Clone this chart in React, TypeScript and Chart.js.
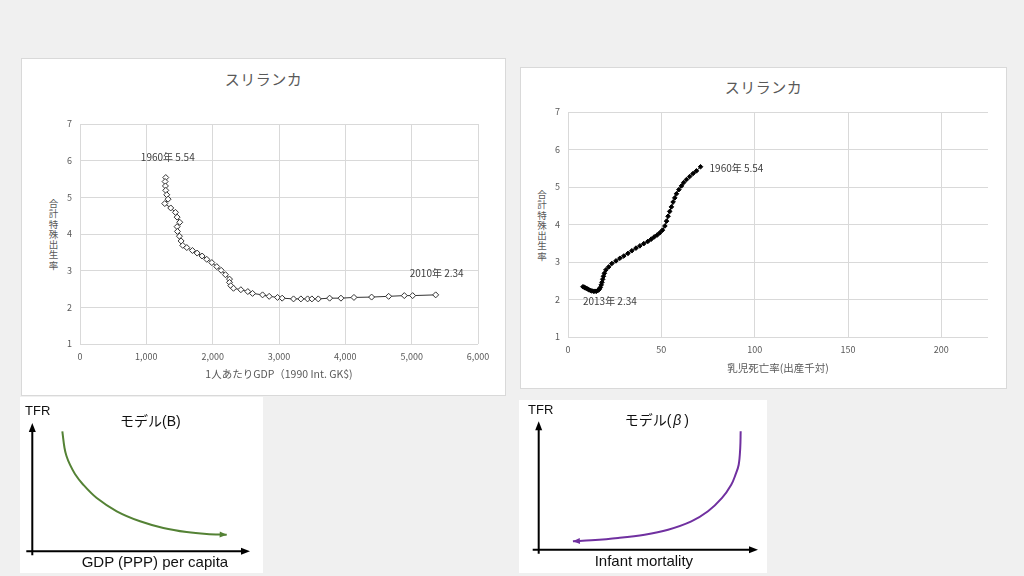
import React, { useEffect, useRef } from "react";
import { Chart, registerables } from "chart.js";

Chart.register(...registerables);

// ---------- TFR vs GDP per capita (Sri Lanka 1960–2010) ----------
const gdpPerCapita = [1293, 1283, 1288, 1293, 1308, 1328, 1278, 1368, 1439, 1464, 1504, 1464, 1469, 1499, 1524, 1549, 1610, 1695, 1766, 1841, 1911, 1987, 2062, 2128, 2193, 2254, 2254, 2274, 2314, 2425, 2530, 2601, 2752, 2852, 2978, 3048, 3219, 3330, 3431, 3496, 3592, 3763, 3934, 4130, 4396, 4653, 4889, 5015, 5362];
const tfrVsGdp = [5.54, 5.43, 5.31, 5.19, 5.07, 4.95, 4.83, 4.71, 4.59, 4.46, 4.32, 4.2, 4.07, 3.94, 3.81, 3.69, 3.63, 3.55, 3.48, 3.4, 3.31, 3.22, 3.11, 3.01, 2.89, 2.77, 2.68, 2.59, 2.52, 2.48, 2.43, 2.38, 2.34, 2.3, 2.27, 2.25, 2.23, 2.23, 2.23, 2.23, 2.23, 2.25, 2.25, 2.27, 2.28, 2.3, 2.32, 2.32, 2.34];
const gdpAnnotations = ["1960年 5.54", "2010年 2.34"];
const gdpTicks = [0, 1000, 2000, 3000, 4000, 5000, 6000];

// ---------- TFR vs infant mortality (Sri Lanka 1960–2013) ----------
const infantMortality = [71.0, 68.8, 67.0, 65.2, 63.5, 62.0, 60.8, 59.4, 58.1, 57.2, 56.3, 55.4, 54.5, 53.6, 52.8, 51.9, 50.6, 49.2, 47.8, 46.2, 44.6, 42.8, 40.6, 38.5, 36.4, 34.2, 32.1, 29.9, 27.8, 25.7, 23.5, 21.8, 20.3, 19.5, 19.0, 18.6, 18.2, 17.8, 17.3, 16.7, 16.0, 15.2, 14.4, 13.6, 12.8, 12.0, 11.2, 10.5, 9.8, 9.2, 8.6, 8.0];
const tfrVsImr = [5.54, 5.43, 5.36, 5.28, 5.2, 5.12, 5.03, 4.93, 4.82, 4.71, 4.6, 4.47, 4.35, 4.22, 4.09, 3.96, 3.85, 3.78, 3.72, 3.67, 3.61, 3.55, 3.49, 3.43, 3.37, 3.3, 3.23, 3.16, 3.1, 3.03, 2.96, 2.87, 2.79, 2.7, 2.62, 2.54, 2.46, 2.39, 2.32, 2.27, 2.24, 2.22, 2.22, 2.22, 2.23, 2.24, 2.26, 2.28, 2.3, 2.31, 2.33, 2.34];
const imrAnnotations = ["1960年 5.54", "2013年 2.34"];
const imrTicks = [0, 50, 100, 150, 200];
const imrAxisMax = 225;

const tfrTicks = [1, 2, 3, 4, 5, 6, 7];

// ---------- Texts ----------
const chartTitle = "スリランカ";
const tfrAxisTitle = "合計特殊出生率";
const gdpAxisTitle = "1人あたりGDP（1990 Int. GK$)";
const imrAxisTitle = "乳児死亡率(出産千対)";

// ---------- Schematic model curves (0–10 abstract units) ----------
const modelBX = [1.38, 1.48, 1.57, 1.73, 1.96, 2.34, 2.96, 3.88, 4.95, 6.02, 7.09, 8.01, 8.93];
const modelBY = [9.35, 8.05, 7.43, 6.75, 6.03, 5.19, 4.15, 3.12, 2.34, 1.82, 1.5, 1.35, 1.29];
const modelBetaX = [9.21, 9.19, 9.12, 8.97, 8.78, 8.36, 7.72, 6.96, 5.9, 4.83, 3.62, 2.4, 1.56];
const modelBetaY = [9.22, 7.92, 6.62, 5.82, 5.06, 4.03, 2.99, 2.21, 1.56, 1.17, 0.91, 0.73, 0.65];

const CJK = "'Noto Sans CJK JP', 'Noto Sans', sans-serif";
const LATIN = "'Liberation Sans', 'Noto Sans CJK JP', sans-serif";
const GRID = "#d9d9d9";
const TEXT = "#595959";

type Annot = { index: number; text: string; dx: number; dy: number; align: CanvasTextAlign };

function annotationPlugin(items: Annot[]) {
  return {
    id: "annot",
    afterDatasetsDraw(chart: any) {
      const meta = chart.getDatasetMeta(0);
      const ctx = chart.ctx as CanvasRenderingContext2D;
      ctx.save();
      ctx.font = `10px ${CJK}`;
      ctx.fillStyle = "#404040";
      ctx.textBaseline = "middle";
      for (const it of items) {
        const el = meta.data[it.index];
        if (!el) continue;
        ctx.textAlign = it.align;
        ctx.fillText(it.text, el.x + it.dx, el.y + it.dy);
      }
      ctx.restore();
    },
  };
}

function arrowHead(ctx: CanvasRenderingContext2D, x1: number, y1: number, x2: number, y2: number, len: number, half: number) {
  const a = Math.atan2(y2 - y1, x2 - x1);
  const c = Math.cos(a);
  const s = Math.sin(a);
  ctx.beginPath();
  ctx.moveTo(x2, y2);
  ctx.lineTo(x2 - len * c + half * s, y2 - len * s - half * c);
  ctx.lineTo(x2 - len * c - half * s, y2 - len * s + half * c);
  ctx.closePath();
  ctx.fill();
}

function modelPlugin(color: string) {
  return {
    id: "modelAxes",
    afterDatasetsDraw(chart: any) {
      const ctx = chart.ctx as CanvasRenderingContext2D;
      const a = chart.chartArea;
      ctx.save();
      ctx.strokeStyle = "#000";
      ctx.fillStyle = "#000";
      ctx.lineWidth = 2;
      ctx.beginPath();
      ctx.moveTo(a.left, a.bottom + 4);
      ctx.lineTo(a.left, a.top + 6);
      ctx.moveTo(a.left - 6, a.bottom);
      ctx.lineTo(a.right - 6, a.bottom);
      ctx.stroke();
      arrowHead(ctx, a.left, a.bottom, a.left, a.top, 9, 3.5);
      arrowHead(ctx, a.left, a.bottom, a.right, a.bottom, 9, 3.5);
      const pts = chart.getDatasetMeta(0).data;
      const p1 = pts[pts.length - 2];
      const p2 = pts[pts.length - 1];
      ctx.fillStyle = color;
      arrowHead(ctx, p1.x, p1.y, p2.x, p2.y, 7, 3);
      ctx.restore();
    },
  };
}

function ChartCanvas({ width, height, config }: { width: number; height: number; config: () => any }) {
  const ref = useRef<HTMLCanvasElement>(null);
  useEffect(() => {
    const chart = new Chart(ref.current as HTMLCanvasElement, config());
    return () => chart.destroy();
  }, []);
  return (
    <canvas
      ref={ref}
      width={width}
      height={height}
      style={{ position: "absolute", left: 0, top: 0, width, height, display: "block" }}
    />
  );
}

function tickFont(size: number) {
  return { size, family: CJK };
}

function dataChartConfig(opts: {
  xs: number[];
  ys: number[];
  xTicks: number[];
  xMax: number;
  xTitle: string;
  xTitlePad: number;
  padding: { top: number; right: number };
  yWidth: number;
  xHeight: number;
  filled: boolean;
  annots: Annot[];
}) {
  return () => ({
    type: "scatter",
    data: {
      datasets: [
        {
          data: opts.xs.map((x, i) => ({ x, y: opts.ys[i] })),
          showLine: true,
          borderColor: opts.filled ? "#000000" : "#333333",
          borderWidth: 1,
          pointStyle: "rectRot",
          pointRadius: opts.filled ? 2.3 : 3,
          pointBorderWidth: 1,
          pointBackgroundColor: opts.filled ? "#000000" : "#ffffff",
          pointBorderColor: opts.filled ? "#000000" : "#333333",
          clip: false,
        },
      ],
    },
    options: {
      responsive: false,
      animation: false,
      devicePixelRatio: 1,
      events: [],
      layout: { padding: { top: opts.padding.top, right: opts.padding.right, left: 0, bottom: 0 } },
      plugins: { legend: { display: false }, tooltip: { enabled: false }, title: { display: false } },
      scales: {
        x: {
          type: "linear",
          min: 0,
          max: opts.xMax,
          afterBuildTicks: (s: any) => {
            s.ticks = opts.xTicks.map((v) => ({ value: v }));
          },
          afterFit: (s: any) => {
            s.height = opts.xHeight;
          },
          ticks: {
            color: TEXT,
            font: tickFont(9),
            padding: 7,
            maxRotation: 0,
            callback: (v: any) => Number(v).toLocaleString("en-US"),
          },
          grid: { color: GRID, drawTicks: false },
          border: { display: false },
          title: {
            display: true,
            text: opts.xTitle,
            color: TEXT,
            font: { size: 10.5, family: CJK },
            padding: { top: 0, bottom: opts.xTitlePad },
          },
        },
        y: {
          type: "linear",
          min: 1,
          max: 7,
          afterBuildTicks: (s: any) => {
            s.ticks = tfrTicks.map((v) => ({ value: v }));
          },
          afterFit: (s: any) => {
            s.width = opts.yWidth;
          },
          ticks: { color: TEXT, font: tickFont(9), padding: 8 },
          grid: { color: GRID, drawTicks: false },
          border: { display: false },
        },
      },
    },
    plugins: [annotationPlugin(opts.annots)],
  });
}

function modelChartConfig(xs: number[], ys: number[], color: string, padding: any) {
  return () => ({
    type: "scatter",
    data: {
      datasets: [
        {
          data: xs.map((x, i) => ({ x, y: ys[i] })),
          showLine: true,
          borderColor: color,
          borderWidth: 2,
          pointRadius: 0,
          tension: 0.35,
          clip: false,
        },
      ],
    },
    options: {
      responsive: false,
      animation: false,
      devicePixelRatio: 1,
      events: [],
      layout: { padding },
      plugins: { legend: { display: false }, tooltip: { enabled: false } },
      scales: {
        x: { type: "linear", min: 0, max: 10, display: false },
        y: { type: "linear", min: 0, max: 10, display: false },
      },
    },
    plugins: [modelPlugin(color)],
  });
}

const panelBase: React.CSSProperties = {
  position: "absolute",
  background: "#ffffff",
};

function Title({ width, centerY }: { width: number; centerY: number }) {
  return (
    <div
      style={{
        position: "absolute",
        left: 0,
        top: centerY - 10,
        width,
        height: 20,
        lineHeight: "20px",
        textAlign: "center",
        fontFamily: CJK,
        fontSize: 15,
        letterSpacing: 0.5,
        color: TEXT,
        whiteSpace: "nowrap",
      }}
    >
      {chartTitle}
    </div>
  );
}

function VerticalTitle({ centerX, top }: { centerX: number; top: number }) {
  return (
    <div
      style={{
        position: "absolute",
        left: centerX - 7,
        top,
        width: 14,
        fontFamily: CJK,
        fontSize: 9.5,
        color: TEXT,
        textAlign: "center",
      }}
    >
      {Array.from(tfrAxisTitle).map((ch, i) => (
        <div key={i} style={{ height: 10.3, lineHeight: "10.3px" }}>
          {ch}
        </div>
      ))}
    </div>
  );
}

function Label({ left, centerY, size, children }: { left: number; centerY: number; size: number; children: React.ReactNode }) {
  return (
    <div
      style={{
        position: "absolute",
        left,
        top: centerY - 10,
        height: 20,
        lineHeight: "20px",
        fontFamily: LATIN,
        fontSize: size,
        color: "#111",
        whiteSpace: "nowrap",
      }}
    >
      {children}
    </div>
  );
}

export default function App() {
  const gdpLast = gdpPerCapita.length - 1;
  const imrLast = infantMortality.length - 1;
  return (
    <div
      style={{
        position: "absolute",
        left: 0,
        top: 0,
        width: 1024,
        height: 576,
        background: "#f0f0f0",
        overflow: "hidden",
      }}
    >
      {/* Chart 1: TFR vs GDP */}
      <div style={{ ...panelBase, left: 21, top: 58, width: 485, height: 338, boxShadow: `inset 0 0 0 1px ${GRID}` }}>
        <Title width={485} centerY={20.7} />
        <VerticalTitle centerX={32.5} top={140} />
        <ChartCanvas
          width={485}
          height={338}
          config={dataChartConfig({
            xs: gdpPerCapita,
            ys: tfrVsGdp,
            xTicks: gdpTicks,
            xMax: 6000,
            xTitle: gdpAxisTitle,
            xTitlePad: 15.7,
            padding: { top: 66, right: 28 },
            yWidth: 59,
            xHeight: 52,
            filled: false,
            annots: [
              { index: 0, text: gdpAnnotations[0], dx: 2, dy: -20, align: "center" },
              { index: gdpLast, text: gdpAnnotations[1], dx: 1, dy: -22, align: "center" },
            ],
          })}
        />
      </div>

      {/* Chart 2: TFR vs infant mortality */}
      <div style={{ ...panelBase, left: 520, top: 67, width: 487, height: 322, boxShadow: `inset 0 0 0 1px ${GRID}` }}>
        <Title width={487} centerY={19.7} />
        <VerticalTitle centerX={22} top={122} />
        <ChartCanvas
          width={487}
          height={322}
          config={dataChartConfig({
            xs: infantMortality,
            ys: tfrVsImr,
            xTicks: imrTicks,
            xMax: imrAxisMax,
            xTitle: imrAxisTitle,
            xTitlePad: 14.7,
            padding: { top: 45, right: 19 },
            yWidth: 48,
            xHeight: 52,
            filled: true,
            annots: [
              { index: 0, text: imrAnnotations[0], dx: 9, dy: 1, align: "left" },
              { index: imrLast, text: imrAnnotations[1], dx: 0, dy: 14, align: "left" },
            ],
          })}
        />
      </div>

      {/* Model (B) */}
      <div style={{ ...panelBase, left: 20, top: 397, width: 243, height: 176 }}>
        <ChartCanvas
          width={243}
          height={176}
          config={modelChartConfig(modelBX, modelBY, "#548235", { left: 12.3, top: 26, right: 13, bottom: 21.7 })}
        />
        <Label left={5} centerY={14.3} size={13}>TFR</Label>
        <Label left={100} centerY={24.3} size={14}>
          モデル(B)
        </Label>
        <Label left={61.7} centerY={164.7} size={15}>GDP (PPP) per capita</Label>
      </div>

      {/* Model (beta) */}
      <div style={{ ...panelBase, left: 519, top: 400, width: 248, height: 173 }}>
        <ChartCanvas
          width={248}
          height={173}
          config={modelChartConfig(modelBetaX, modelBetaY, "#7030a0", { left: 19.7, top: 21.3, right: 9, bottom: 23.3 })}
        />
        <Label left={9} centerY={10.3} size={13}>TFR</Label>
        <Label left={105.7} centerY={20.3} size={14}>
          モデル(<span style={{ fontStyle: "italic", margin: "0 3px 0 2px" }}>β</span>)
        </Label>
        <Label left={75.7} centerY={161.3} size={15}>Infant mortality</Label>
      </div>
    </div>
  );
}
